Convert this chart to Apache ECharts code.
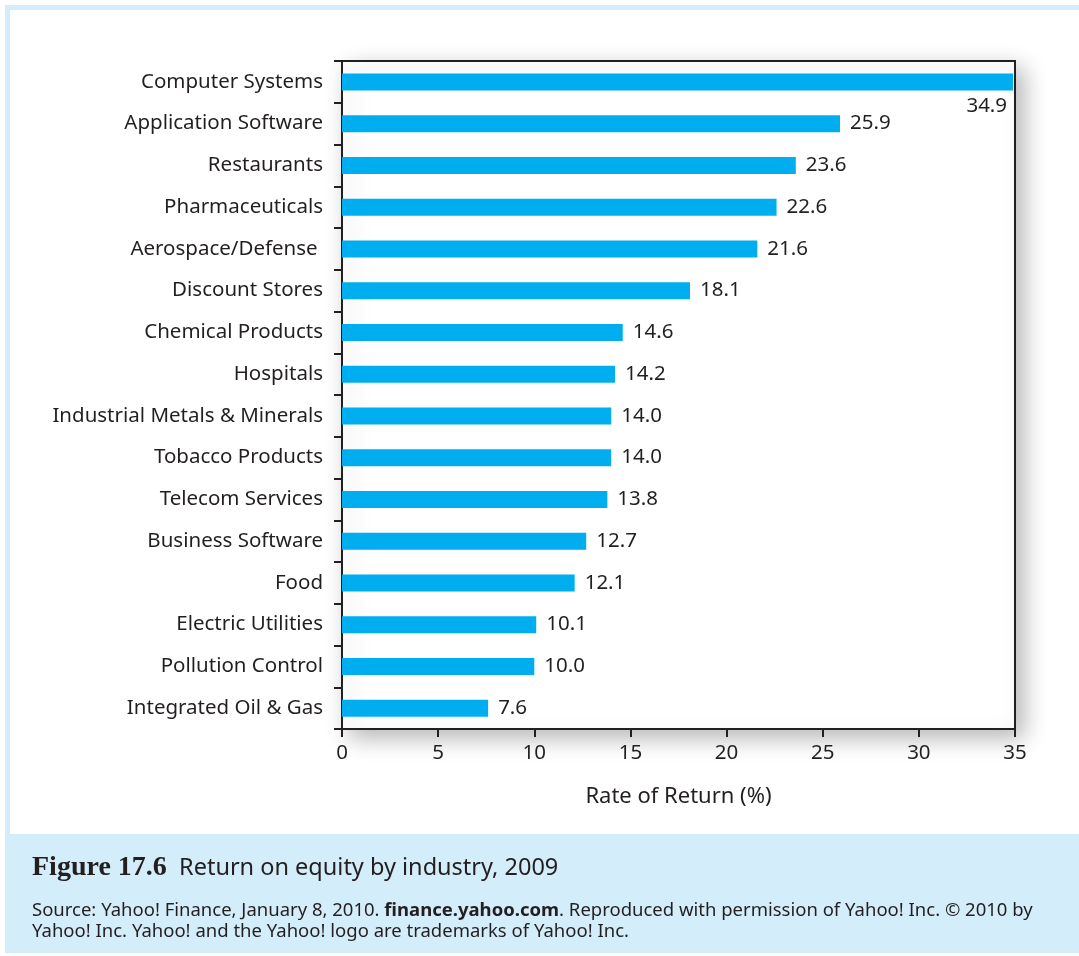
<!DOCTYPE html>
<html>
<head>
<meta charset="utf-8">
<script src="https://cdn.jsdelivr.net/npm/echarts@6/dist/echarts.min.js"></script>
<style>
html,body{margin:0;padding:0;background:#fff;}
#chart{width:1079px;height:956px;}
</style>
</head>
<body>
<div id="chart"></div>
<script>
const categories = ["Computer Systems","Application Software","Restaurants","Pharmaceuticals","Aerospace/Defense ","Discount Stores","Chemical Products","Hospitals","Industrial Metals & Minerals","Tobacco Products","Telecom Services","Business Software","Food","Electric Utilities","Pollution Control","Integrated Oil & Gas"];
const values = [34.9,25.9,23.6,22.6,21.6,18.1,14.6,14.2,14.0,14.0,13.8,12.7,12.1,10.1,10.0,7.6];
const xTicks = [0,5,10,15,20,25,30,35];
const captionNumber = "Figure 17.6";
const captionTitle = "Return on equity by industry, 2009";
const sourceLine1 = ["Source: Yahoo! Finance, January 8, 2010. ", "finance.yahoo.com", ". Reproduced with permission of Yahoo! Inc. © 2010 by"];
const sourceLine2 = "Yahoo! Inc. Yahoo! and the Yahoo! logo are trademarks of Yahoo! Inc.";

const TXT = '#231f20';
const FONT = 'Noto Sans';
const FS = 20.5;
const chart = echarts.init(document.getElementById('chart'), null, {renderer:'canvas'});

const seriesData = values.map((v, i) => {
  const item = {value: v};
  if (i === 0) {
    item.label = {position: ['100%','100%'], align: 'right', verticalAlign: 'top', offset: [-6, 5]};
  }
  return item;
});

chart.setOption({
  animation: false,
  backgroundColor: '#ffffff',
  graphic: [
    {type:'rect', z:-10, shape:{x:5,y:5,width:1074,height:948}, style:{fill:'#d4edfa'}, silent:true},
    {type:'rect', z:-9, shape:{x:10,y:10,width:1069,height:824}, style:{fill:'#ffffff'}, silent:true},
    {type:'text', left:32, top:854, style:{
      text: '{a|' + captionNumber + '}{b|  ' + captionTitle + '}',
      rich: {
        a:{fontFamily:'Liberation Serif', fontWeight:'bold', fontSize:28, fill:TXT, color:TXT},
        b:{fontFamily:FONT, fontSize:23.5, fill:TXT, color:TXT}
      }
    }},
    {type:'text', left:32, top:901, style:{
      text: '{n|' + sourceLine1[0] + '}{bo|' + sourceLine1[1] + '}{n|' + sourceLine1[2] + '}\n{n|' + sourceLine2 + '}',
      rich: {
        n:{fontFamily:FONT, fontSize:18.5, lineHeight:21, fill:TXT, color:TXT},
        bo:{fontFamily:FONT, fontSize:18.5, fontWeight:'bold', lineHeight:21, fill:TXT, color:TXT}
      }
    }}
  ],
  grid: {
    left: 342, right: 64, top: 61, bottom: 227,
    show: true, backgroundColor: '#ffffff', borderColor: TXT, borderWidth: 2,
    shadowColor: 'rgba(0,0,0,0.28)', shadowBlur: 22, shadowOffsetX: 8, shadowOffsetY: 8
  },
  xAxis: {
    type: 'value', min: xTicks[0], max: xTicks[xTicks.length-1], interval: 5,
    name: 'Rate of Return (%)', nameLocation: 'middle', nameGap: 57,
    nameTextStyle: {fontFamily: FONT, fontSize: 22, color: TXT},
    axisLine: {show: true, lineStyle: {color: TXT, width: 2}},
    axisTick: {show: true, length: 8, lineStyle: {color: TXT, width: 2}},
    axisLabel: {fontFamily: FONT, fontSize: FS, color: TXT, margin: 14},
    splitLine: {show: false}
  },
  yAxis: {
    type: 'category', data: categories, inverse: true,
    axisLine: {show: true, lineStyle: {color: TXT, width: 2}},
    axisTick: {show: true, length: 8, lineStyle: {color: TXT, width: 2}},
    axisLabel: {fontFamily: FONT, fontSize: FS, color: TXT, margin: 19}
  },
  series: [{
    type: 'bar', data: seriesData, barWidth: 17,
    itemStyle: {color: '#00aeef'},
    label: {show: true, position: 'right', distance: 10, fontFamily: FONT, fontSize: FS, color: TXT,
      formatter: p => p.value.toFixed(1)}
  }]
});
</script>
</body>
</html>
